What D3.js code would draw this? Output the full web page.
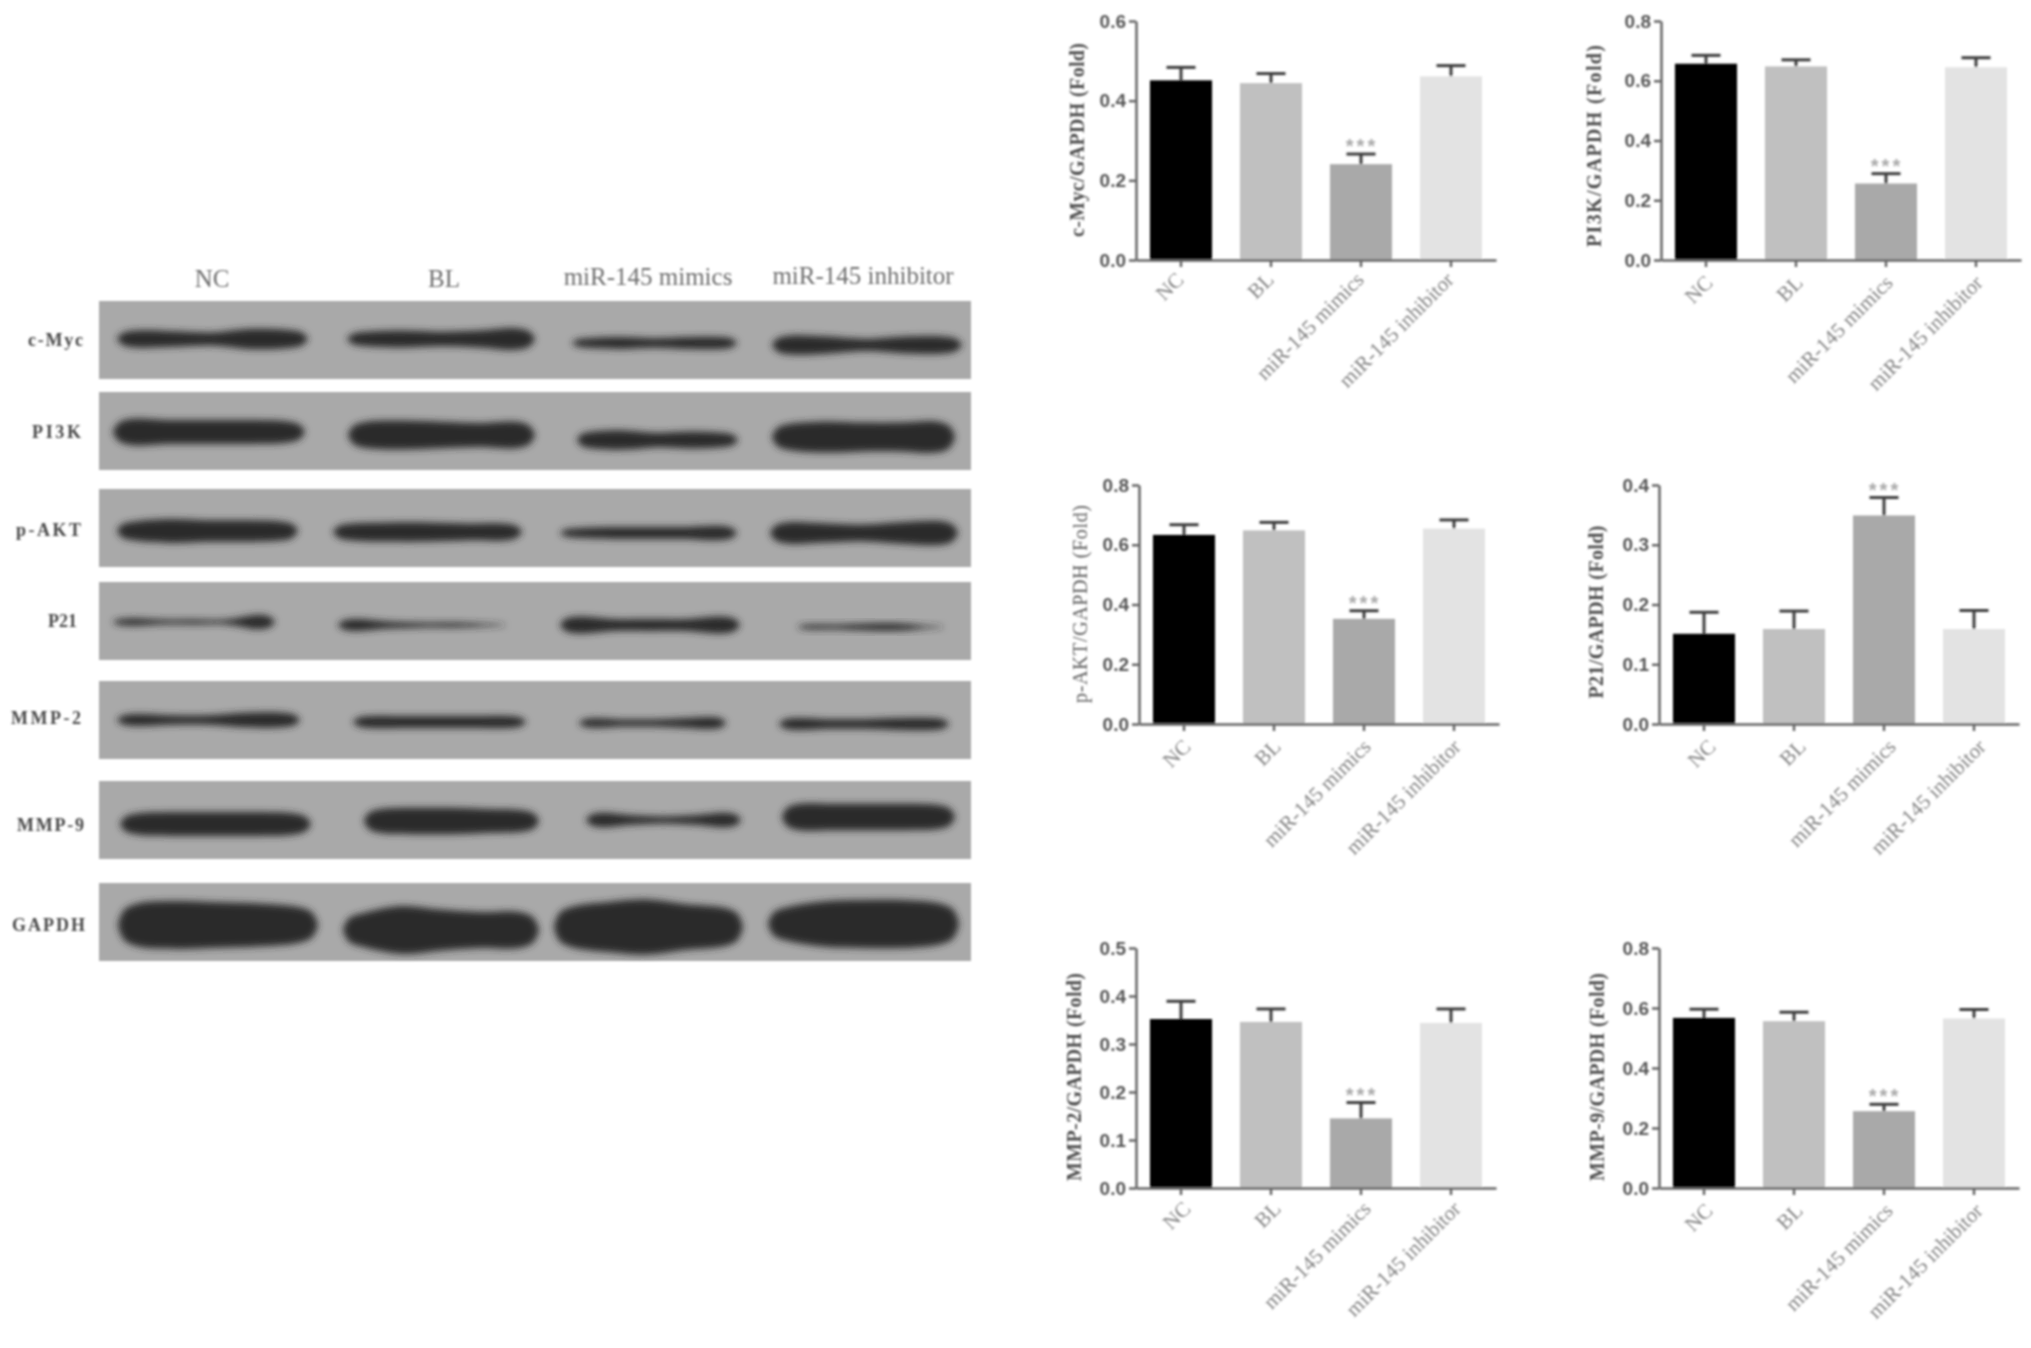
<!DOCTYPE html>
<html>
<head>
<meta charset="utf-8">
<script src="https://cdn.jsdelivr.net/npm/d3@7"></script>
<style>
    html, body { margin: 0; background: #fff; }
    svg { display: block; }
</style>
</head>
<body>
<div id="main"></div>
<script>
//////////
// DATA //
//////////

const groups = ["NC", "BL", "miR-145 mimics", "miR-145 inhibitor"]
const proteins = ["c-Myc", "PI3K", "p-AKT", "P21", "MMP-2", "MMP-9", "GAPDH"]

const panel_titles = [
    "c-Myc/GAPDH (Fold)", "PI3K/GAPDH (Fold)", "p-AKT/GAPDH (Fold)",
    "P21/GAPDH (Fold)", "MMP-2/GAPDH (Fold)", "MMP-9/GAPDH (Fold)"
]
const y_max = [0.6, 0.8, 0.8, 0.4, 0.5, 0.8]
const y_ticks = [
    [0, 0.2, 0.4, 0.6],
    [0, 0.2, 0.4, 0.6, 0.8],
    [0, 0.2, 0.4, 0.6, 0.8],
    [0, 0.1, 0.2, 0.3, 0.4],
    [0, 0.1, 0.2, 0.3, 0.4, 0.5],
    [0, 0.2, 0.4, 0.6, 0.8]
]

const means = [
    [0.451, 0.444, 0.2405, 0.461],
    [0.657, 0.648, 0.256, 0.645],
    [0.633, 0.648, 0.352, 0.654],
    [0.151, 0.159, 0.349, 0.159],
    [0.352, 0.346, 0.145, 0.344],
    [0.567, 0.556, 0.256, 0.565]
]
const upper_errors = [
    [0.4835, 0.468, 0.266, 0.488],
    [0.685, 0.670, 0.289, 0.677],
    [0.667, 0.675, 0.379, 0.683],
    [0.187, 0.189, 0.379, 0.190],
    [0.389, 0.373, 0.178, 0.373],
    [0.596, 0.586, 0.279, 0.595]
]

// western blot bands: one row per protein, one entry per group
// measured in blot units (strip is 872 across, 78 tall)
const band_start = [
    [18, 248, 473, 673], [14, 249, 478, 673], [18, 234, 461, 671], [14, 239, 461, 699],
    [18, 254, 480, 680], [21, 265, 487, 683], [19, 244, 455, 669]
]
const band_end = [
    [209, 436, 638, 863], [206, 436, 639, 856], [199, 423, 638, 859], [176, 406, 641, 844],
    [201, 427, 627, 850], [212, 440, 642, 856], [219, 440, 644, 860]
]
const band_middle = [
    [38, 38, 42, 44], [40, 43, 48, 45], [42, 43, 44, 44], [40, 43, 43, 45],
    [39, 41, 42, 43], [43, 40, 39, 36], [42, 47, 44, 41]
]
const band_thickness = [
    [[7, 6.5, 5.5, 8.5, 7.5], [6, 7, 6, 7, 9], [4, 5, 4, 5, 5], [8, 7, 5, 7, 7]],
    [[11, 10, 10, 10, 9], [11, 12, 11, 10, 11], [7, 8, 6, 7, 6], [11, 13, 12, 12, 13]],
    [[8, 10, 9, 9, 8], [7, 8, 8, 7, 7], [4, 5, 5, 5, 6], [9, 8, 7, 9, 10]],
    [[3, 2, 2, 2, 6], [5, 3, 2, 2, 1], [7, 5, 5, 5, 7], [2, 2, 3, 3, 1]],
    [[5, 4, 4, 6, 6], [5, 5, 5, 5, 5], [4, 3, 3, 4, 5], [5, 4, 4, 5, 5]],
    [[9, 10, 10, 10, 9], [10, 11, 11, 10, 9], [6, 4, 3, 4, 6], [11, 11, 11, 11, 10]],
    [[18, 20, 19, 18, 15], [14, 20, 17, 15, 15], [17, 21, 23, 19, 16], [14, 19, 20, 20, 17]]
]


////////////
// LAYOUT //
////////////

const width = 2031
const height = 1348

const bar_fill = ["#000000", "#c0c0c0", "#a9a9a9", "#e3e3e3"]

const panel_left = [1136, 1661, 1139, 1659, 1136, 1659]
const panel_top = [21, 21, 485, 485, 948, 948]
const panel_base = [260, 260, 724, 724, 1188, 1188]
const panel_right = [1496, 2021, 1499, 2019, 1496, 2019]

const title_x = [1084, 1601, 1087, 1603, 1081, 1604]
const title_y = [140, 146, 604, 612, 1077, 1077]
const title_len = [194, 202, 198, 173, 208, 208]
const title_weight = ["bold", "bold", "normal", "bold", "bold", "bold"]

// the rotated labels do not sit at the same spot under every panel
const label_dx = [4, 8, 8, 13, 11, 10]
const label_dy = [21, 24, 24, 24, 22, 24]

const strip_top = [301, 392, 489, 582, 681, 781, 883]
const strip_left = 99
const strip_right = 971
const strip_height = 78

const protein_right = [83, 81, 81, 77, 81, 84, 85]
const protein_y = [346, 438, 536, 627, 724, 831, 931]
const protein_len = [55, 49, 65, 29, 70, 67, 73]

const group_x = [212, 444, 648, 863]
const group_y = [287, 287, 285, 284]

const SERIF = "'Liberation Serif', serif"
const SANS = "'Liberation Sans', sans-serif"


//////////
// DRAW //
//////////

const svg = d3.select("#main").append("svg")
    .attr("width", width)
    .attr("height", height)

const defs = svg.append("defs")
defs.append("filter").attr("id", "soft").append("feGaussianBlur").attr("stdDeviation", 0.8)
defs.append("filter").attr("id", "smear")
    .attr("x", "-10%").attr("y", "-60%").attr("width", "120%").attr("height", "220%")
    .append("feGaussianBlur").attr("stdDeviation", 3.6)

draw_blot()
panel_titles.forEach((_, i) => draw_panel(i))


///////////////
// FUNCTIONS //
///////////////

function draw_blot(){
    const x = d3.scaleLinear().domain([0, 872]).range([strip_left, strip_right])
    const along = [0, 0.03, 0.1, 0.3, 0.5, 0.7, 0.9, 0.97, 1]

    const g = svg.append("g")

    proteins.forEach((protein, row) => {
        const y = d3.scaleLinear().domain([0, 78]).range([strip_top[row], strip_top[row] + strip_height])

        g.append("rect")
            .attr("x", strip_left)
            .attr("y", strip_top[row])
            .attr("width", strip_right - strip_left)
            .attr("height", strip_height)
            .attr("fill", "#a9a9a9")
            .attr("filter", "url(#soft)")

        groups.forEach((group, lane) => {
            const t = band_thickness[row][lane]
            const half = [0.5, t[0] * 0.7, ...t, t[4] * 0.7, 0.5]
            const span = d3.scaleLinear().domain([0, 1]).range([band_start[row][lane], band_end[row][lane]])
            const mid = band_middle[row][lane]

            const area = d3.area()
                .x(d => x(span(d[0])))
                .y0(d => y(mid - d[1]))
                .y1(d => y(mid + d[1]))
                .curve(d3.curveCatmullRom)

            g.append("path")
                .datum(along.map((u, k) => [u, half[k] * 1.2]))
                .attr("d", area)
                .attr("fill", "#2a2a2a")
                .attr("filter", "url(#smear)")
        })

        g.append("text")
            .attr("x", protein_right[row])
            .attr("y", protein_y[row])
            .attr("text-anchor", "end")
            .attr("textLength", protein_len[row])
            .attr("lengthAdjust", "spacing")
            .attr("font-family", SERIF)
            .attr("font-weight", "bold")
            .attr("font-size", 18)
            .attr("fill", "#4a4a4a")
            .attr("filter", "url(#soft)")
            .text(protein)
    })

    g.selectAll("text.group")
        .data(groups)
        .enter().append("text")
            .attr("class", "group")
            .attr("x", (d, i) => group_x[i])
            .attr("y", (d, i) => group_y[i])
            .attr("text-anchor", "middle")
            .attr("font-family", SERIF)
            .attr("font-size", 25)
            .attr("fill", "#6e6e6e")
            .attr("filter", "url(#soft)")
            .text(d => d)
}

function draw_panel(i){
    const x = d3.scaleBand()
        .domain(groups)
        .range([panel_left[i], panel_right[i]])
        .paddingInner(0.31)
        .paddingOuter(0.155)

    const y = d3.scaleLinear()
        .domain([0, y_max[i]])
        .range([panel_base[i], panel_top[i]])

    const g = svg.append("g").attr("filter", "url(#soft)")

    // error bars go under the bars so the stem stops at the bar top
    const cx = d => x(d) + x.bandwidth() / 2

    const errors = g.selectAll("g.err")
        .data(groups)
        .enter().append("g")
            .attr("class", "err")
            .attr("stroke", "#3d3d3d")
            .attr("stroke-width", 3)

    errors.append("line")
        .attr("x1", cx).attr("x2", cx)
        .attr("y1", (d, k) => y(means[i][k]))
        .attr("y2", (d, k) => y(upper_errors[i][k]))

    errors.append("line")
        .attr("x1", d => cx(d) - 14.5).attr("x2", d => cx(d) + 14.5)
        .attr("y1", (d, k) => y(upper_errors[i][k]))
        .attr("y2", (d, k) => y(upper_errors[i][k]))

    g.selectAll("rect.bar")
        .data(groups)
        .enter().append("rect")
            .attr("class", "bar")
            .attr("x", d => x(d))
            .attr("y", (d, k) => y(means[i][k]))
            .attr("width", x.bandwidth())
            .attr("height", (d, k) => panel_base[i] - y(means[i][k]))
            .attr("fill", (d, k) => bar_fill[k])

    // significance stars over the mimics bar
    g.append("text")
        .attr("x", cx(groups[2]) + 1)
        .attr("y", y(upper_errors[i][2]) - 1)
        .attr("text-anchor", "middle")
        .attr("font-family", SANS)
        .attr("font-weight", "bold")
        .attr("font-size", 20)
        .attr("letter-spacing", 3)
        .attr("fill", "#a8a8a8")
        .text("***")

    const y_axis = g.append("g")
        .attr("transform", `translate(${panel_left[i]},0)`)
        .call(d3.axisLeft(y).tickValues(y_ticks[i]).tickFormat(d3.format(".1f")).tickSize(7).tickPadding(3).tickSizeOuter(0))

    y_axis.selectAll("text")
        .attr("font-family", SANS)
        .attr("font-weight", "bold")
        .attr("font-size", 19)
        .attr("fill", "#555")

    const x_axis = g.append("g")
        .attr("transform", `translate(0,${panel_base[i]})`)
        .call(d3.axisBottom(x).tickSize(7).tickSizeOuter(0))

    x_axis.selectAll("text")
        .attr("font-family", SERIF)
        .attr("font-size", 21)
        .attr("fill", "#858585")
        .attr("text-anchor", "end")
        .attr("dy", 0)
        .attr("y", 0)
        .attr("transform", `translate(${label_dx[i]},${label_dy[i]}) rotate(-45)`)

    g.selectAll(".domain, .tick line")
        .attr("stroke", "#666")
        .attr("stroke-width", 2.5)

    g.append("text")
        .attr("transform", `translate(${title_x[i]},${title_y[i]}) rotate(-90)`)
        .attr("text-anchor", "middle")
        .attr("textLength", title_len[i])
        .attr("lengthAdjust", "spacing")
        .attr("font-family", SERIF)
        .attr("font-weight", title_weight[i])
        .attr("font-size", 20)
        .attr("fill", title_weight[i] === "bold" ? "#4f4f4f" : "#606060")
        .text(panel_titles[i])
}
</script>
</body>
</html>
